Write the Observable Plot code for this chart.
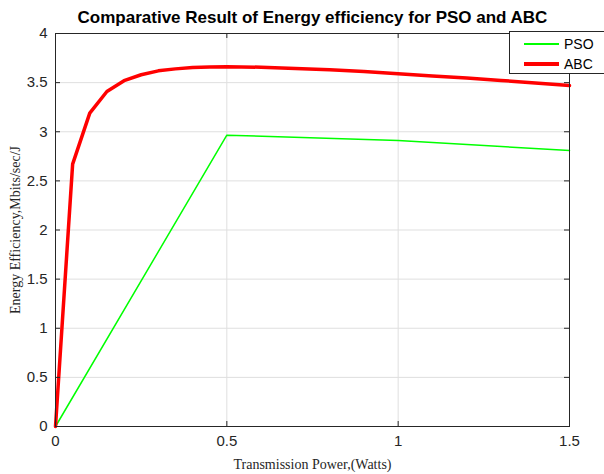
<!DOCTYPE html>
<html>
<head>
<meta charset="utf-8">
<script src="https://cdn.jsdelivr.net/npm/d3@7"></script>
<script src="https://cdn.jsdelivr.net/npm/@observablehq/plot@0.6"></script>
<style>
  html, body { margin: 0; padding: 0; background: #fff; }
  #wrap { position: relative; width: 604px; height: 474px; overflow: hidden; }
  #legend { position: absolute; left: 509px; top: 31px; width: 110px; height: 43px;
    border: 1px solid #262626; background: #fff; box-sizing: border-box;
    font-family: "Liberation Sans", Arial, sans-serif; font-size: 14px; color: #000; }
  .row { position: absolute; left: 0; height: 20px; display: flex; align-items: center; }
  .row span.l { display: inline-block; width: 35px; margin-left: 14px; margin-right: 5px; }
</style>
</head>
<body>
<div id="wrap"></div>
<script>
const title = "Comparative Result of Energy efficiency for PSO and ABC";
const xLabel = "Transmission Power,(Watts)";
const yLabel = "Energy Efficiency,Mbits/sec/J";
const seriesNames = ["PSO", "ABC"];
const seriesColors = ["#00ff00", "#ff0000"];
const seriesWidths = [1.5, 3.5];

const psoX = [0, 0.5, 1.0, 1.5];
const psoY = [0, 2.965, 2.91, 2.81];

const abcX = [0, 0.05, 0.1, 0.15, 0.2, 0.25, 0.3, 0.35, 0.4, 0.45, 0.5, 0.6, 0.7, 0.8, 0.9, 1.0, 1.1, 1.2, 1.3, 1.4, 1.5];
const abcY = [0, 2.67, 3.19, 3.41, 3.52, 3.58, 3.62, 3.64, 3.655, 3.66, 3.662, 3.657, 3.645, 3.63, 3.612, 3.59, 3.568, 3.547, 3.522, 3.497, 3.47];

const xTicks = [0, 0.5, 1, 1.5];
const yTicks = [0, 0.5, 1, 1.5, 2, 2.5, 3, 3.5, 4];

const pso = psoX.map((x, i) => ({x, y: psoY[i]}));
const abc = abcX.map((x, i) => ({x, y: abcY[i]}));

const fmt = d => String(d);
const ink = "#262626";

const W = 604, H = 474, mT = 33, mB = 48, mL = 55, mR = 35;
const frameW = W - mL - mR, frameH = H - mT - mB, tk = 5;

const chart = Plot.plot({
  width: W,
  height: H,
  marginTop: mT,
  marginBottom: mB,
  marginLeft: mL,
  marginRight: mR,
  style: {background: "#fff", fontFamily: "'Liberation Sans', Arial, sans-serif"},
  x: {domain: [0, 1.5]},
  y: {domain: [0, 4]},
  marks: [
    Plot.gridX(xTicks, {stroke: "#dfdfdf", strokeOpacity: 1}),
    Plot.gridY(yTicks, {stroke: "#dfdfdf", strokeOpacity: 1}),
    Plot.line(pso, {x: "x", y: "y", stroke: seriesColors[0], strokeWidth: seriesWidths[0]}),
    Plot.line(abc, {x: "x", y: "y", stroke: seriesColors[1], strokeWidth: seriesWidths[1], strokeLinejoin: "round"}),
    Plot.axisX({anchor: "bottom", ticks: xTicks, tickFormat: fmt, tickSize: 0, tickPadding: 9, fontSize: 15, color: ink, label: null}),
    Plot.axisY({anchor: "left", ticks: yTicks, tickFormat: fmt, tickSize: 0, tickPadding: 8, fontSize: 15, color: ink, label: null}),
    // inward ticks on all four sides
    Plot.tickX(xTicks, {x: d => d, stroke: ink, insetTop: frameH - tk}),
    Plot.tickX(xTicks, {x: d => d, stroke: ink, insetBottom: frameH - tk}),
    Plot.tickY(yTicks, {y: d => d, stroke: ink, insetRight: frameW - tk}),
    Plot.tickY(yTicks, {y: d => d, stroke: ink, insetLeft: frameW - tk}),
    Plot.frame({stroke: ink, strokeWidth: 1}),
    Plot.text([title], {frameAnchor: "top", dy: -16, fontSize: 17, fontWeight: "bold", fill: "#000", textAnchor: "middle", lineAnchor: "middle"}),
    Plot.text([xLabel], {frameAnchor: "bottom", dy: 38, fontSize: 14, fontFamily: "'Liberation Serif', 'Times New Roman', serif", fill: ink, textAnchor: "middle", lineAnchor: "middle"}),
    Plot.text([yLabel], {frameAnchor: "left", dx: -40, rotate: -90, fontSize: 14, fontFamily: "'Liberation Serif', 'Times New Roman', serif", fill: ink, textAnchor: "middle", lineAnchor: "middle"})
  ]
});

const wrap = document.getElementById("wrap");
wrap.appendChild(chart);

const legend = document.createElement("div");
legend.id = "legend";
seriesNames.forEach((name, i) => {
  const row = document.createElement("div");
  row.className = "row";
  row.style.top = (2 + i * 20) + "px";
  const l = document.createElement("span");
  l.className = "l";
  l.style.height = seriesWidths[i] + "px";
  l.style.background = seriesColors[i];
  const t = document.createElement("span");
  t.textContent = name;
  row.appendChild(l);
  row.appendChild(t);
  legend.appendChild(row);
});
wrap.appendChild(legend);
</script>
</body>
</html>
